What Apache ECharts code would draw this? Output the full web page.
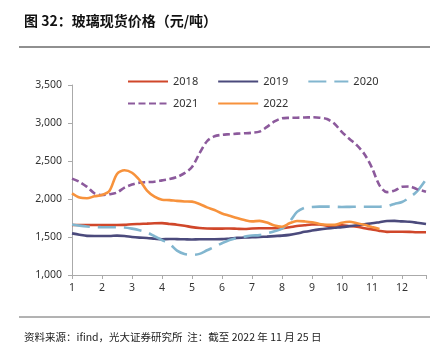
<!DOCTYPE html>
<html><head><meta charset="utf-8">
<script src="https://cdn.jsdelivr.net/npm/echarts@6/dist/echarts.min.js"></script>
<style>html,body{margin:0;padding:0;background:#fff}#c{width:445px;height:355px}</style>
</head><body><div id="c"></div>
<script>
var titleText = '图 32：玻璃现货价格（元/吨）';
var sourceText = '资料来源：ifind，光大证券研究所  注：截至 2022 年 11 月 25 日';
var seriesNames = ['2018', '2019', '2020', '2021', '2022'];
var monthTicks = [1,2,3,4,5,6,7,8,9,10,11,12];
var weeks = [1,1.25,1.5,1.75,2,2.25,2.5,2.75,3,3.25,3.5,3.75,4,4.25,4.5,4.75,5,5.25,5.5,5.75,6,6.25,6.5,6.75,7,7.25,7.5,7.75,8,8.25,8.5,8.75,9,9.25,9.5,9.75,10,10.25,10.5,10.75,11,11.25,11.5,11.75,12,12.25,12.5,12.8];
var v2018 = [1658,1658,1658,1658,1658,1658,1658,1660,1668,1672,1676,1680,1682,1672,1662,1648,1630,1618,1612,1610,1610,1612,1608,1605,1612,1615,1615,1615,1615,1628,1645,1655,1665,1665,1648,1650,1655,1645,1636,1615,1600,1580,1568,1570,1570,1568,1562,1562];
var v2019 = [1548,1530,1515,1513,1513,1513,1518,1513,1500,1492,1487,1478,1470,1474,1472,1470,1468,1470,1470,1470,1472,1480,1488,1494,1496,1500,1505,1512,1518,1528,1545,1568,1585,1600,1612,1622,1630,1642,1655,1668,1680,1695,1710,1712,1705,1700,1688,1671];
var v2020 = [1665,1650,1638,1632,1628,1628,1628,1625,1610,1590,1562,1510,1460,1410,1320,1275,1265,1278,1325,1370,1418,1460,1488,1505,1520,1525,1548,1575,1610,1700,1830,1885,1895,1900,1900,1898,1895,1897,1898,1898,1898,1899,1905,1935,1960,2020,2100,2259];
var v2021 = [2268,2225,2160,2075,2053,2062,2085,2150,2190,2215,2222,2228,2245,2262,2290,2340,2420,2600,2760,2825,2845,2852,2860,2865,2872,2886,2950,3020,3062,3068,3070,3072,3075,3070,3052,2990,2880,2790,2705,2590,2410,2180,2090,2110,2160,2165,2130,2096];
var v2022 = [2075,2020,2010,2035,2053,2110,2330,2378,2345,2250,2110,2030,1990,1985,1975,1968,1965,1935,1890,1855,1810,1780,1750,1724,1705,1712,1690,1650,1635,1680,1710,1705,1695,1672,1662,1660,1688,1700,1682,1660,1632,1605,null,null,null,null,null,null];
var yTicks = [1000,1500,2000,2500,3000,3500];

function pairs(vals){ return weeks.map(function(x,i){ return [x, vals[i]]; }); }
var colors = ['#D0472A','#4B4A7C','#82B6CF','#8C5A9C','#F7923C'];
var dashes = ['solid','solid',[18,8],[7,3.5],'solid'];
var allVals = [v2018, v2019, v2020, v2021, v2022];

var chart = echarts.init(document.getElementById('c'));
var font = '"Noto Sans", "Noto Sans CJK SC", sans-serif';
var legendCommon = {left: 122, itemWidth: 40, itemHeight: 12, itemGap: 19,
  itemStyle: {opacity: 0}, textStyle: {fontSize: 11, color: '#333'}};
chart.setOption({
  animation: false,
  textStyle: {fontFamily: font},
  title: [
    {text: titleText, left: 19, top: 9, textStyle: {fontSize: 14, fontWeight: 'bold', color: '#111', fontFamily: '"Noto Sans CJK SC", sans-serif'}},
    {text: sourceText, left: 19, top: 327, textStyle: {fontSize: 10.5, fontWeight: 'normal', color: '#222', fontFamily: '"Noto Sans CJK SC", sans-serif'}}
  ],
  graphic: [
    {type: 'line', shape: {x1: 19, y1: 47, x2: 430, y2: 47}, style: {stroke: '#222', lineWidth: 1.2}},
    {type: 'line', shape: {x1: 19, y1: 317, x2: 430, y2: 317}, style: {stroke: '#666', lineWidth: 1}}
  ],
  legend: [
    Object.assign({data: seriesNames.slice(0,3), top: 71}, legendCommon),
    Object.assign({data: seriesNames.slice(3), top: 93}, legendCommon)
  ],
  grid: {left: 72, right: 19, top: 85, bottom: 80},
  xAxis: {
    type: 'value', min: monthTicks[0], max: 12.8, interval: 1,
    axisLine: {lineStyle: {color: '#aaa'}},
    axisTick: {show: true, length: 4, lineStyle: {color: '#aaa'}},
    splitLine: {show: false},
    axisLabel: {color: '#333', fontSize: 10.5, margin: 8,
      formatter: function(v){ return monthTicks.indexOf(v) >= 0 ? String(v) : ''; }}
  },
  yAxis: {
    type: 'value', min: yTicks[0], max: yTicks[yTicks.length-1], interval: 500,
    axisLine: {show: true, lineStyle: {color: '#aaa'}},
    axisTick: {show: true, length: 4, lineStyle: {color: '#aaa'}},
    splitLine: {show: false},
    axisLabel: {color: '#333', fontSize: 10.5, margin: 10,
      formatter: function(v){ return v.toLocaleString('en-US'); }}
  },
  series: seriesNames.map(function(n, i){
    return {name: n, type: 'line', data: pairs(allVals[i]), showSymbol: false, symbol: 'none',
      smooth: 0.3, color: colors[i],
      lineStyle: {width: 2.6, color: colors[i], type: dashes[i]}};
  })
});
</script></body></html>
